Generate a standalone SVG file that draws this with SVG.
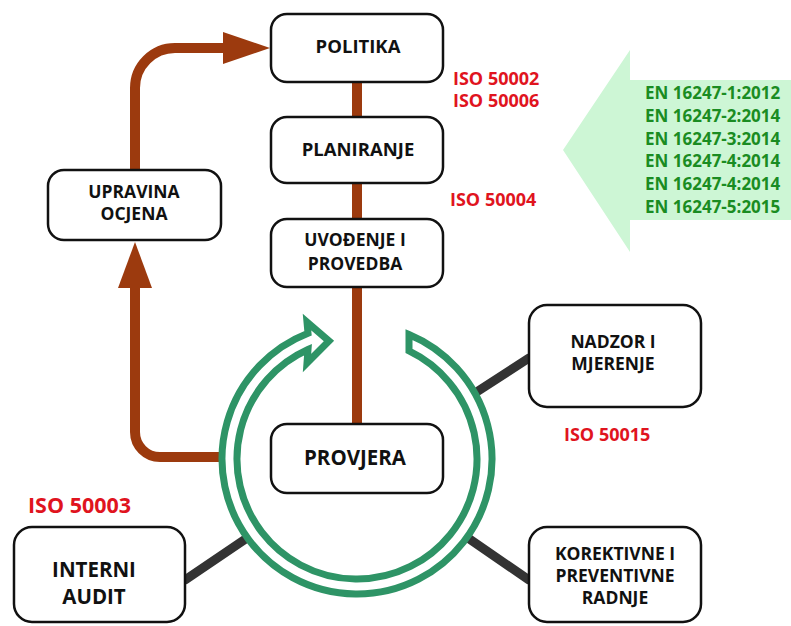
<svg xmlns="http://www.w3.org/2000/svg" width="791" height="626" viewBox="0 0 791 626">
<style>
.box{fill:#fff;stroke:#111;stroke-width:2.5}
.t{font-family:"Open Sans","Liberation Sans",sans-serif;font-weight:bold;font-size:17.5px;fill:#111;text-anchor:middle}
.big{font-size:20.5px}
.iso{font-family:"Open Sans","Liberation Sans",sans-serif;font-weight:bold;font-size:18px;fill:#e0141e}
.en{font-family:"Open Sans","Liberation Sans",sans-serif;font-weight:bold;font-size:17px;fill:#1a8c22}
.brown{fill:none;stroke:#9c3a0e;stroke-width:10}
.gray{stroke:#333;stroke-width:9;stroke-linecap:round}
</style>
<rect width="791" height="626" fill="#fff"/>
<polygon points="563,150 630,50 630,80 791,80 791,220 630,220 630,252" fill="#cdf6d5"/>
<g id="en-list">
<text class="en" x="645" y="99">EN 16247-1:2012</text>
<text class="en" x="645" y="122">EN 16247-2:2014</text>
<text class="en" x="645" y="145">EN 16247-3:2014</text>
<text class="en" x="645" y="167">EN 16247-4:2014</text>
<text class="en" x="645" y="190">EN 16247-4:2014</text>
<text class="en" x="645" y="213">EN 16247-5:2015</text>
</g>
<g id="connectors">
<line class="brown" x1="357" y1="82" x2="357" y2="425"/>
<path class="brown" d="M220,457 H160 A25,25 0 0 1 135,432 V285"/>
<polygon points="135,242 118,288 152,288" fill="#9c3a0e"/>
<path class="brown" d="M135,170 V88 A40,40 0 0 1 175,48 H226"/>
<polygon points="270,48 223,32 223,64" fill="#9c3a0e"/>
<line class="gray" x1="185" y1="580" x2="247" y2="538"/>
<line class="gray" x1="475" y1="393" x2="529" y2="358"/>
<line class="gray" x1="468" y1="538" x2="529" y2="580"/>
</g>
<path id="cycle" d="M409,334.4 A135,135 0 1 1 308,333.2 L307,322 L329,341 L307,363 L308,349.5 A120,120 0 1 0 409,350.9 Z" fill="#fff" stroke="#2e9466" stroke-width="7" stroke-linejoin="miter"/>
<g id="politika"><rect class="box" x="271" y="14" width="172" height="68" rx="16"/><text class="t" x="358" y="53" style="font-size:18.5px">POLITIKA</text></g>
<g id="planiranje"><rect class="box" x="271" y="117" width="172" height="66" rx="16"/><text class="t" x="358" y="156" style="font-size:18.5px">PLANIRANJE</text></g>
<g id="uvodenje"><rect class="box" x="271" y="219" width="172" height="68" rx="16"/><text class="t" x="355" y="246">UVOĐENJE I</text><text class="t" x="355" y="270">PROVEDBA</text></g>
<g id="provjera"><rect class="box" x="271" y="424" width="172" height="69" rx="16"/><text class="t big" x="355" y="465">PROVJERA</text></g>
<g id="upravina"><rect class="box" x="48" y="170" width="173" height="70" rx="16"/><text class="t" x="134" y="198">UPRAVINA</text><text class="t" x="134" y="220">OCJENA</text></g>
<g id="interni"><rect class="box" x="14" y="527" width="171" height="95" rx="18"/><text class="t big" x="94" y="577">INTERNI</text><text class="t big" x="94" y="604">AUDIT</text></g>
<g id="nadzor"><rect class="box" x="529" y="305" width="172" height="102" rx="18"/><text class="t" x="613" y="348">NADZOR I</text><text class="t" x="613" y="370">MJERENJE</text></g>
<g id="korektivne"><rect class="box" x="529" y="527" width="172" height="95" rx="18"/><text class="t" x="615" y="560">KOREKTIVNE I</text><text class="t" x="615" y="582">PREVENTIVNE</text><text class="t" x="615" y="604">RADNJE</text></g>
<g id="iso-labels">
<text class="iso" x="453" y="85">ISO 50002</text>
<text class="iso" x="453" y="107">ISO 50006</text>
<text class="iso" x="450" y="206">ISO 50004</text>
<text class="iso" x="564" y="441">ISO 50015</text>
<text class="iso" x="28" y="513" style="font-size:21.5px">ISO 50003</text>
</g>
</svg>
